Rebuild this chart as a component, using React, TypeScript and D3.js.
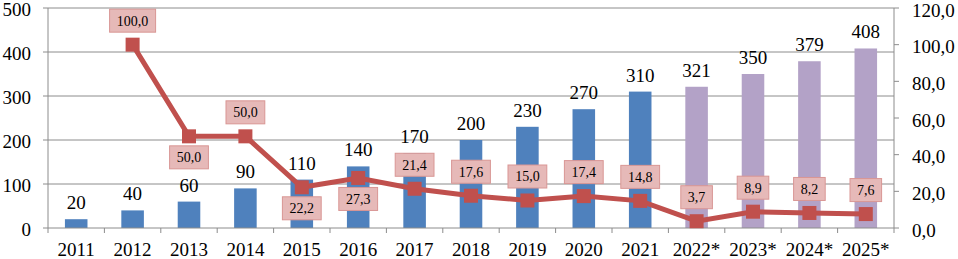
import React from "react";
import * as d3 from "d3";

const categories = ["2011","2012","2013","2014","2015","2016","2017","2018","2019","2020","2021","2022*","2023*","2024*","2025*"];
const barValues = [20,40,60,90,110,140,170,200,230,270,310,321,350,379,408];
const forecast = [false,false,false,false,false,false,false,false,false,false,false,true,true,true,true];
const lineValues: (number | null)[] = [null,100.0,50.0,50.0,22.2,27.3,21.4,17.6,15.0,17.4,14.8,3.7,8.9,8.2,7.6];
const labelBelow = [false,false,true,false,true,true,false,false,false,false,false,false,false,false,false];
const leftTicks = [0,100,200,300,400,500];
const rightTicks = [0,20,40,60,80,100,120];

const W = 958, H = 259;
const m = { left: 48, right: 894, top: 8, bottom: 228 };
const FONT = "Liberation Serif, Times New Roman, serif";

export default function App() {
  const x = d3.scaleBand<string>().domain(categories).range([m.left, m.right]).paddingInner(0).paddingOuter(0);
  const yL = d3.scaleLinear().domain([0, 500]).range([m.bottom, m.top]);
  const yR = d3.scaleLinear().domain([0, 120]).range([m.bottom, m.top]);
  const bw = x.bandwidth() * 0.4;
  const cx = (c: string) => (x(c) as number) + x.bandwidth() / 2;
  const fmt = (v: number) => v.toFixed(1).replace(".", ",");

  const pts = categories
    .map((c, i) => ({ c, i, v: lineValues[i] }))
    .filter((d) => d.v !== null) as { c: string; i: number; v: number }[];
  const line = d3.line<{ c: string; v: number }>().x((d) => cx(d.c)).y((d) => yR(d.v));

  const grid = "#8c8c8c";
  const ts = { fontFamily: FONT } as React.CSSProperties;
  return (
    <svg width={W} height={H} style={{ position: "absolute", left: 0, top: 0, background: "#fff", fontFamily: FONT }}>
      {leftTicks.map((t) => (
        <g key={"l" + t}>
          <line x1={m.left - 5} x2={t === 0 ? m.left : m.right} y1={yL(t)} y2={yL(t)} stroke={grid} strokeWidth={1} />
          <text x={31} y={yL(t) + 1} dy="0.35em" textAnchor="end" fontSize={19} style={ts}>{t}</text>
        </g>
      ))}
      {rightTicks.map((t) => (
        <g key={"r" + t}>
          <line x1={m.right} x2={m.right + 5} y1={yR(t)} y2={yR(t)} stroke={grid} strokeWidth={1} />
          <text x={912} y={yR(t) + 2} dy="0.35em" textAnchor="start" fontSize={19} style={ts}>{fmt(t)}</text>
        </g>
      ))}
      <line x1={m.left} x2={m.left} y1={m.top} y2={m.bottom} stroke={grid} />
      <line x1={m.right} x2={m.right} y1={m.top} y2={m.bottom} stroke={grid} />
      {categories.map((c, i) => (
        <rect key={"b" + c} x={cx(c) - bw / 2} y={yL(barValues[i])} width={bw} height={m.bottom - yL(barValues[i])} fill={forecast[i] ? "#B3A2C7" : "#4F81BD"} />
      ))}
      <line x1={m.left} x2={m.right} y1={m.bottom} y2={m.bottom} stroke={grid} />
      {d3.range(categories.length + 1).map((k) => {
        const xx = m.left + k * x.step();
        return <line key={"xt" + k} x1={xx} x2={xx} y1={m.bottom} y2={m.bottom + 5} stroke={grid} />;
      })}
      {categories.map((c) => (
        <text key={"xl" + c} x={cx(c)} y={256} textAnchor="middle" fontSize={19} style={ts}>{c}</text>
      ))}
      {categories.map((c, i) => (
        <text key={"bl" + c} x={cx(c)} y={yL(barValues[i]) - 10} textAnchor="middle" fontSize={19} style={ts}>{barValues[i]}</text>
      ))}
      <path d={line(pts) || ""} fill="none" stroke="#C0504D" strokeWidth={5} />
      {pts.map((d) => (
        <rect key={"mk" + d.c} x={cx(d.c) - 7} y={yR(d.v) - 7} width={14} height={14} fill="#C0504D" />
      ))}
      {pts.map((d) => {
        const txt = fmt(d.v);
        const w = txt.length * 7.2 + 10;
        const cy = yR(d.v) + (labelBelow[d.i] ? 21 : -24);
        return (
          <g key={"ll" + d.c}>
            <rect x={cx(d.c) - w / 2} y={cy - 11.5} width={w} height={23} fill="#E6B9B8" stroke="#D99694" strokeWidth={1} />
            <text x={cx(d.c)} y={cy} dy="0.35em" textAnchor="middle" fontSize={14} style={ts}>{txt}</text>
          </g>
        );
      })}
    </svg>
  );
}
